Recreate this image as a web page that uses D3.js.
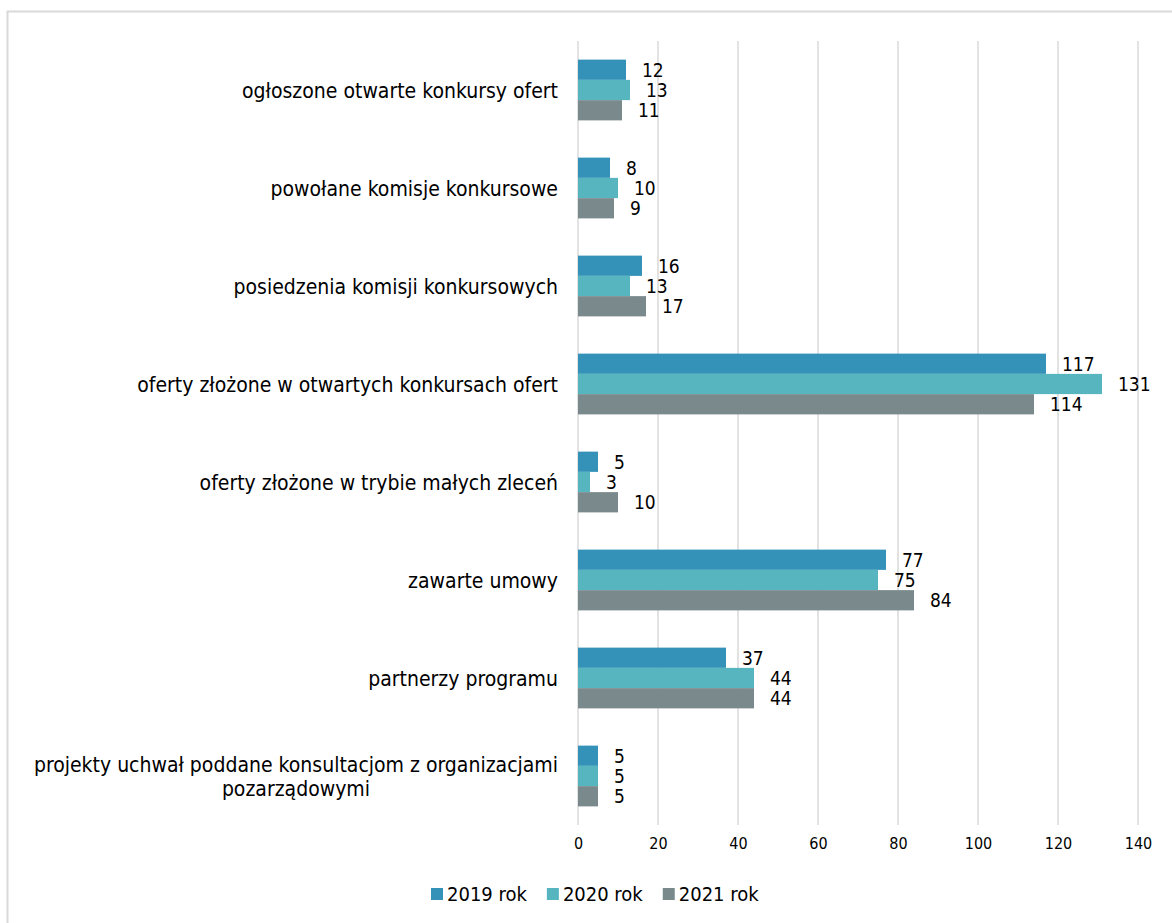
<!DOCTYPE html>
<html>
<head>
<meta charset="utf-8">
<script src="https://cdn.jsdelivr.net/npm/d3@7"></script>
<style>
  body { margin: 0; background: #fff; }
  text { font-family: "DejaVu Sans Condensed", "DejaVu Sans", sans-serif; fill: #000; }
</style>
</head>
<body>
<div id="chart"></div>
<script>
// categories top to bottom
const categories = [
  'ogłoszone otwarte konkursy ofert',
  'powołane komisje konkursowe',
  'posiedzenia komisji konkursowych',
  'oferty złożone w otwartych konkursach ofert',
  'oferty złożone w trybie małych zleceń',
  'zawarte umowy',
  'partnerzy programu',
  'projekty uchwał poddane konsultacjom z organizacjami pozarządowymi'
]
const seriesNames = ['2019 rok', '2020 rok', '2021 rok']
const values2019 = [12, 8, 16, 117, 5, 77, 37, 5]
const values2020 = [13, 10, 13, 131, 3, 75, 44, 5]
const values2021 = [11, 9, 17, 114, 10, 84, 44, 5]
const tickValues = [0, 20, 40, 60, 80, 100, 120, 140]
const colors = ['#3492b9', '#57b5bf', '#7a8a8c']

const width = 1172, height = 923
const margin = {top: 41, left: 578, right: 34, bottom: 98}

let svg = d3.select('#chart')
            .append('svg')
                .attr('width', width)
                .attr('height', height)

// light frame around the chart area
svg.append('rect')
    .attr('x', 7.5).attr('y', 11.5)
    .attr('width', width + 10).attr('height', height + 10)
    .attr('fill', 'none')
    .attr('stroke', '#d9d9d9')
    .attr('stroke-width', 2)

let x = d3.scaleLinear().domain([0, 140]).range([margin.left, width - margin.right])
let y = d3.scaleBand().domain(categories).range([margin.top, height - margin.bottom])
let bw = y.bandwidth()
let y1 = d3.scaleBand().domain(seriesNames).range([bw * 0.19, bw * 0.81])

// gridlines
svg.append('g')
    .selectAll('line')
    .data(tickValues)
    .enter()
    .append('line')
    .attr('x1', d => x(d)).attr('x2', d => x(d))
    .attr('y1', margin.top).attr('y2', height - margin.bottom)
    .attr('stroke', '#d9d9d9')
    .attr('stroke-width', 1.5)

// x axis labels via d3 axis
let xAxis = svg.append('g')
    .attr('transform', `translate(0,${height - margin.bottom + 8})`)
    .call(d3.axisBottom(x).tickValues(tickValues).tickSize(0).tickPadding(5))
xAxis.select('.domain').remove()
xAxis.selectAll('text')
    .style('font-family', '"DejaVu Sans Condensed", "DejaVu Sans", sans-serif')
    .style('font-size', '16px')
    .attr('fill', '#000')

let rows = categories.map((c, i) => ({
  cat: c,
  vals: [values2019[i], values2020[i], values2021[i]]
}))

let groups = svg.selectAll('g.cat')
    .data(rows)
    .enter()
    .append('g')
    .attr('class', 'cat')
    .attr('transform', d => `translate(0,${y(d.cat)})`)

groups.selectAll('rect')
    .data(d => d.vals.map((v, j) => ({s: seriesNames[j], v: v, j: j})))
    .enter()
    .append('rect')
    .attr('x', x(0))
    .attr('y', d => y1(d.s))
    .attr('width', d => x(d.v) - x(0))
    .attr('height', y1.bandwidth())
    .style('fill', d => colors[d.j])

groups.selectAll('text.val')
    .data(d => d.vals.map((v, j) => ({s: seriesNames[j], v: v})))
    .enter()
    .append('text')
    .attr('class', 'val')
    .attr('x', d => x(d.v) + 16)
    .attr('y', d => y1(d.s) + y1.bandwidth() / 2)
    .attr('dy', '0.36em')
    .style('font-size', '19px')
    .text(d => d.v)

// category labels, wrapped when too long
const maxLabel = 545
groups.each(function(d) {
  let g = d3.select(this)
  let t = g.append('text').style('font-size', '21px')
  let words = d.cat.split(' '), lines = [], line = []
  words.forEach(w => {
    line.push(w)
    t.text(line.join(' '))
    if (t.node().getComputedTextLength() > maxLabel && line.length > 1) {
      line.pop()
      lines.push(line.join(' '))
      line = [w]
    }
  })
  lines.push(line.join(' '))
  t.text(null)
  let cy = bw / 2, lh = 24
  if (lines.length === 1) {
    t.attr('text-anchor', 'end')
     .attr('x', margin.left - 20).attr('y', cy).attr('dy', '0.36em')
     .text(lines[0])
  } else {
    // measure the longest line and center lines inside that block
    let widths = lines.map(l => { t.text(l); return t.node().getComputedTextLength() })
    t.text(null)
    let cx = margin.left - 20 - d3.max(widths) / 2
    t.attr('text-anchor', 'middle')
    lines.forEach((l, k) => {
      t.append('tspan')
        .attr('x', cx)
        .attr('y', cy + (k - (lines.length - 1) / 2) * lh)
        .attr('dy', '0.36em')
        .text(l)
    })
  }
})

// legend
let legend = svg.append('g').attr('transform', 'translate(0,894)')
let lx = 431
seriesNames.forEach((s, j) => {
  legend.append('rect')
    .attr('x', lx).attr('y', -6).attr('width', 12).attr('height', 12)
    .style('fill', colors[j])
  let t = legend.append('text')
    .attr('x', lx + 16).attr('y', 0).attr('dy', '0.36em')
    .style('font-size', '20px')
    .text(s)
  lx += 16 + t.node().getComputedTextLength() + 20
})
</script>
</body>
</html>
